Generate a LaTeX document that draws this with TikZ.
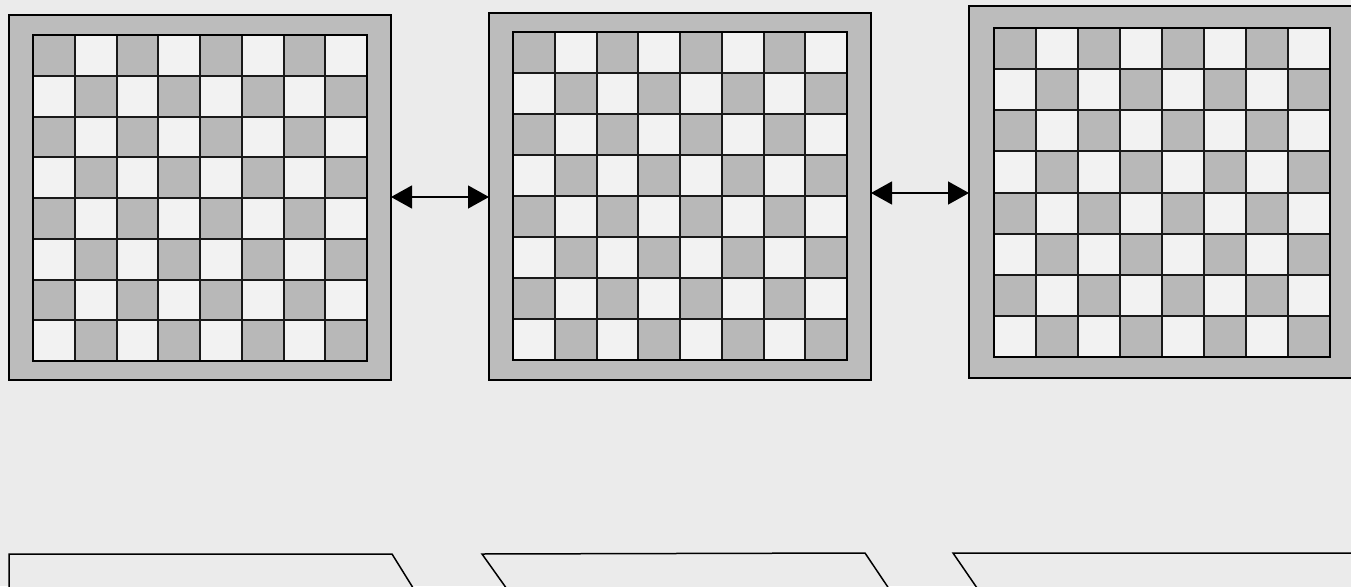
\documentclass[tikz,border=0pt]{standalone}
\usetikzlibrary{arrows.meta,calc}
\definecolor{bgc}{HTML}{EBEBEB}
\definecolor{framec}{HTML}{BCBCBC}
\definecolor{darkc}{HTML}{B8B8B8}
\definecolor{lightc}{HTML}{F2F2F2}
\tikzset{
  frame/.style={draw=black, fill=framec, line width=1.6pt, anchor=north west, inner sep=0pt, outer sep=0pt},
  innergrid/.style={fill=lightc, anchor=north west, inner sep=0pt, outer sep=0pt},
  darkcell/.style={fill=darkc},
  gridline/.style={draw=black!90, line width=2pt},
  gridborder/.style={draw=black, line width=2.2pt},
  dbl/.style={{Triangle[length=21pt,width=23pt]}-{Triangle[length=21pt,width=23pt]}, line width=1.3pt, black},
  plate/.style={draw=black, line width=1.5pt, fill=bgc}
}
\newcommand\drawboard[9]{%
  \node[frame, minimum width=#4pt, minimum height=#5pt] (#1) at (#2,#3) {};
  \node[innergrid, minimum width=#8pt, minimum height=#9pt] (#1g) at (#6,#7) {};
  \foreach \r in {0,...,7}{\foreach \c in {0,...,7}{
    \pgfmathtruncatemacro\cellodd{mod(\r+\c,2)}
    \ifnum\cellodd=0
      \fill[darkcell] ($(#1g.north west)+(\c*#8/8,\r*#9/8)$) rectangle ++(#8/8,#9/8);
    \fi
  }}
  \foreach \k in {1,...,7}{
    \draw[gridline] ($(#1g.north west)+(\k*#8/8,0)$) -- ++(0,#9);
    \draw[gridline] ($(#1g.north west)+(0,\k*#9/8)$) -- ++(#8,0);
  }
  \draw[gridborder] (#1g.north west) rectangle (#1g.south east);
}
\begin{document}
\begin{tikzpicture}[x=1pt,y=-1pt]
\useasboundingbox (0,0) rectangle (1351,586);
\clip (0,0) rectangle (1351,586);
\fill[bgc] (0,0) rectangle (1351,586);
\drawboard{b1}{9}{15}{382}{365}{33}{35}{334}{326}
\drawboard{b2}{489}{13}{382}{367}{513}{32}{334}{328}
\drawboard{b3}{969}{6}{386}{372}{994}{28}{336}{329}
\coordinate (a1) at (440,197);
\coordinate (a2) at (920,193);
\draw[dbl] (b1.east |- a1) -- (b2.west |- a1);
\draw[dbl] (b2.east |- a2) -- (b3.west |- a2);
\draw[plate] (9,620) -- (9,554) -- (392,554) -- (433,620);
\draw[plate] (529,620) -- (482,554) -- (865,553) -- (910,620);
\draw[plate] (999,620) -- (953,553) -- (1360,553) -- (1360,620);
\end{tikzpicture}
\end{document}
